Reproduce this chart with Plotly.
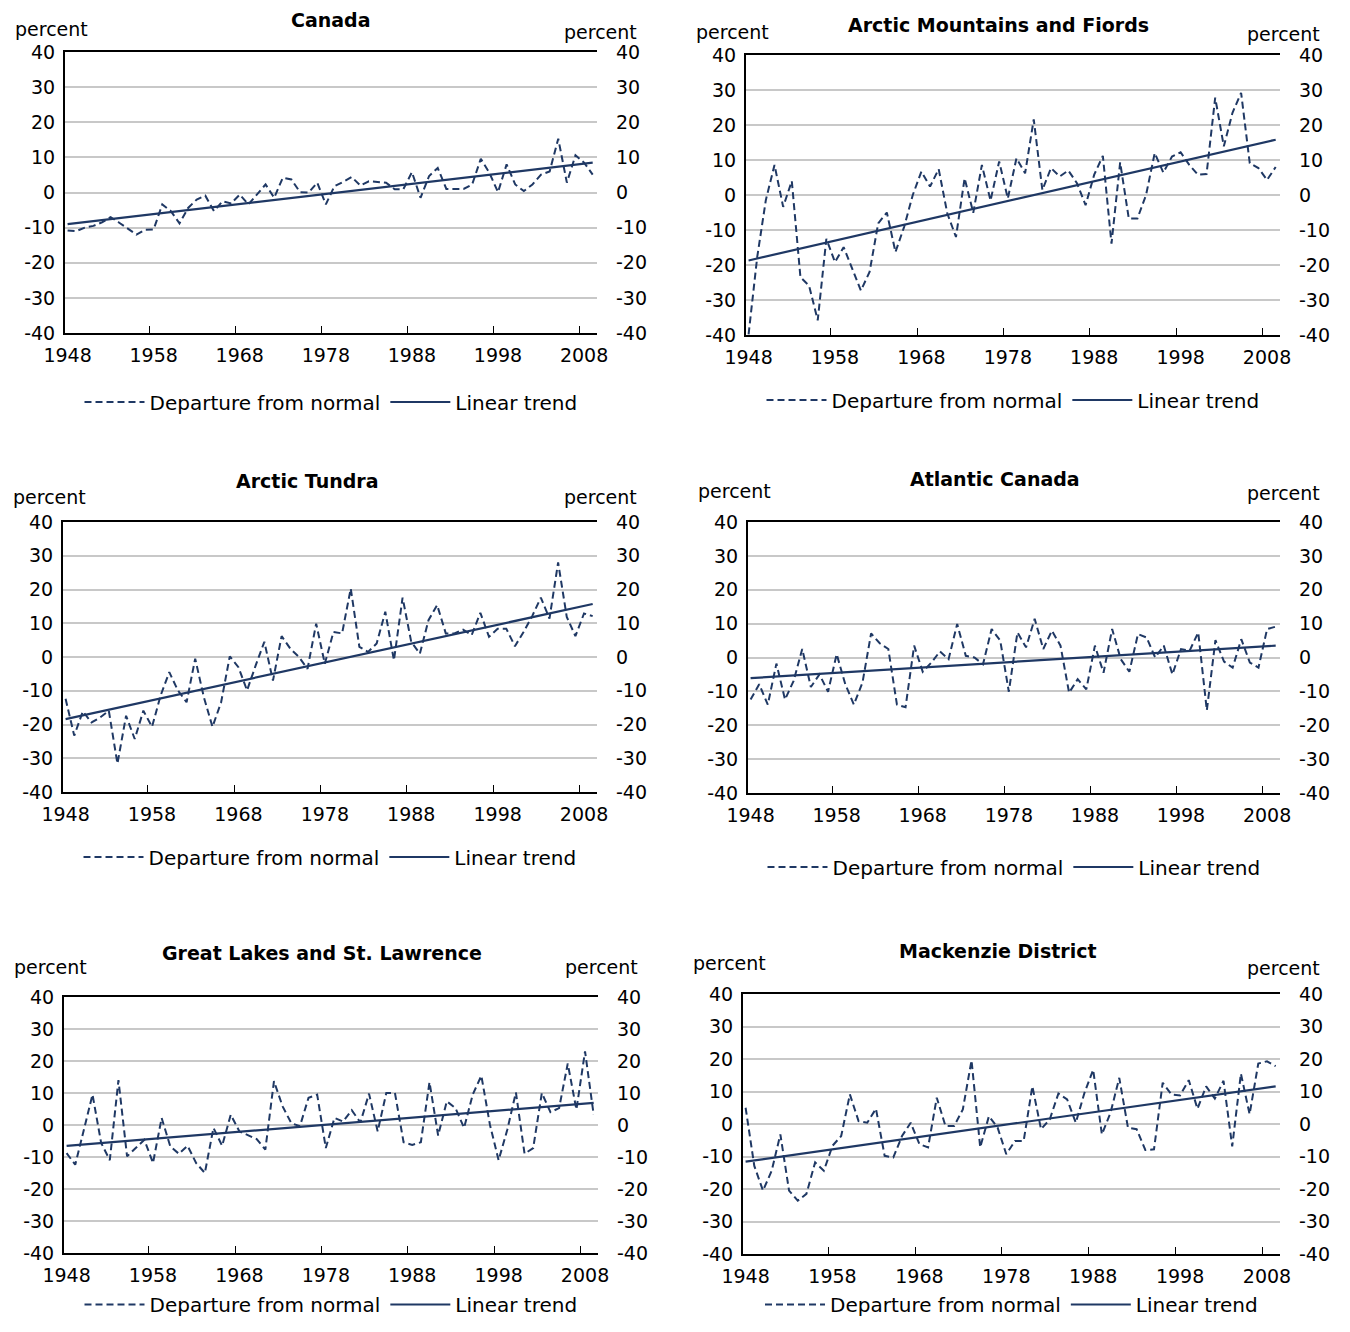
import plotly.graph_objects as go

years = list(range(1948, 2010))

canada = [-10.8, -11, -10, -9.5, -8.5, -7, -8.6, -10.3, -12, -10.6, -10.5, -3.4, -5.3, -8.8, -4.4, -2, -0.9,
          -5.3, -2.5, -3.1, -0.6, -3.4, -0.6, 2.3, -1.5, 4.2, 3.7, 0.1, 0, 2.8, -3.4, 1.8, 3, 4.4, 2, 3.2, 3,
          2.8, 0.9, 0.9, 5.8, -1.5, 4.7, 7, 1, 1, 1, 2.3, 9.6, 5.6, 0.1, 8, 2.3, 0.4, 2.3, 5.1, 6, 15.3, 2.8,
          10.6, 8.5, 5.1]
arctic_mtn = [-39.8, -17.7, -1.4, 8.6, -3.4, 4, -23.5, -25.9, -35.8, -12.5, -19.2, -14.9, -21.1, -27.3, -22,
              -8.1, -5, -16.3, -9.1, 0, 6.7, 2.4, 7.4, -5.3, -12, 4.8, -5.1, 8.6, -1.6, 9.6, -1, 10.5, 6.2,
              21.6, 1.4, 7.7, 5.3, 7, 3.4, -2.9, 5.8, 11.2, -13.9, 9.3, -6.7, -6.7, 0, 12, 6.4, 11, 12.2, 8.6,
              5.8, 6, 27.8, 13.9, 23.5, 29.2, 9.1, 7.7, 4.3, 8]
arctic_tundra = [-12.4, -23.3, -16.1, -19.4, -17.9, -15.9, -31.6, -17.4, -24.3, -15.9, -20.7, -11.4, -4.5,
                 -9.9, -13.4, -0.5, -11.9, -20.7, -13.4, 0.2, -3, -9.9, -2.5, 4.5, -7, 6.2, 2.5, 0, -3.5,
                 9.9, -2, 7.4, 7, 20.3, 3, 1.5, 4, 13.4, -1, 17.6, 4.5, 1, 10.9, 15.4, 7, 7, 8.1, 6.5, 13.1,
                 6, 8.4, 8.4, 3.2, 7.4, 12.1, 17.6, 11.4, 28, 11.9, 6.2, 12.9, 12.1]
atlantic = [-12.4, -7.9, -13.9, -1.8, -12.4, -6.9, 2.5, -8.7, -5, -10.1, 1, -7.9, -13.9, -7.4, 7.1, 4.2, 2.5,
            -13.9, -14.7, 3.5, -4.2, -1.5, 1.8, -0.5, 9.9, 0.5, 0, -2, 8.4, 5, -10.1, 7.4, 3, 11.4, 2.5, 7.9,
            3.5, -10.4, -6.4, -9.4, 3.5, -4.5, 8.4, -0.5, -4.2, 6.9, 5.9, 0, 3.5, -5, 2.5, 2, 7.4, -15.6,
            5.1, -1.2, -3, 5.4, -1.5, -3, 8.4, 9.1]
great_lakes = [-8.8, -12.4, -1.5, 9.5, -5.6, -11, 14, -9.8, -7.2, -4.6, -11.9, 2.2, -6.7, -9, -6.5, -11.9,
               -15, -0.9, -6.5, 3.2, -2, -3.3, -4.4, -7.7, 13.7, 5.8, 0.6, -0.4, 8.5, 9.5, -7.2, 2.2, 1.1,
               4.6, 0.8, 9.8, -2, 10, 10, -5.4, -6.2, -5.4, 13.4, -3.3, 7.4, 5.3, -0.9, 9.5, 15.4, 0, -11,
               -1.5, 10.2, -9, -7.2, 10, 4, 5.3, 19.2, 4.8, 23, 3.2]
mackenzie = [5, -12.9, -20.5, -14.4, -3.2, -20.5, -23.6, -21.5, -11.8, -14.4, -6.7, -3.7, 9.1, 0.9, 0.4, 4.7,
             -9.8, -10.3, -3.7, 0.4, -6.2, -7.2, 8.1, -0.6, -0.6, 4.5, 19.6, -7.2, 2.4, -1.1, -9.3, -5.2,
             -5.2, 11.6, -1.6, 1.4, 9.4, 7.6, 0.4, 9.6, 16.7, -3.2, 3.5, 14.2, -1.1, -1.6, -8, -7.8, 12.7,
             9.1, 8.8, 13.5, 4.7, 11.6, 7.8, 13.3, -6.9, 15.5, 3, 18.6, 19.3, 17.8]

trend_years = [1948, 2009]
trends = {
    "Canada": [-9, 8.5],
    "Arctic Mountains and Fiords": [-18.7, 15.8],
    "Arctic Tundra": [-18.4, 15.7],
    "Atlantic Canada": [-6.1, 3.5],
    "Great Lakes and St. Lawrence": [-6.5, 6.9],
    "Mackenzie District": [-11.6, 11.6],
}
series = {
    "Canada": canada,
    "Arctic Mountains and Fiords": arctic_mtn,
    "Arctic Tundra": arctic_tundra,
    "Atlantic Canada": atlantic,
    "Great Lakes and St. Lawrence": great_lakes,
    "Mackenzie District": mackenzie,
}
tick_years = [1948, 1958, 1968, 1978, 1988, 1998, 2008]
y_ticks = [-40, -30, -20, -10, 0, 10, 20, 30, 40]
y_labels = [str(v) for v in y_ticks]

# page body has an 8px margin: shrink the figure and shift the coordinates
OFF = 8
W, H = 1350 - 2 * OFF, 1332 - 2 * OFF


def px(v):
    return (v - OFF) / W


def py(v):
    return 1 - (v - OFF) / H


# plot boxes in pixels: left, right, top, bottom ; title pos ; left/right "percent" y ; legend y
boxes = [
    (65, 597, 52, 333, 331, 20, 29, 32, 402),
    (746, 1280, 55, 335, 998, 25, 32, 34, 400),
    (63, 597, 522, 792, 307, 481, 497, 497, 857),
    (748, 1280, 522, 793, 995, 479, 491, 493, 867),
    (64, 598, 997, 1253, 322, 953, 967, 967, None),
    (743, 1280, 994, 1254, 998, 951, 963, 968, None),
]
navy = "#1f3864"
font = "DejaVu Sans"

fig = go.Figure()
layout = {}
annotations = []
for i, (name, vals) in enumerate(series.items()):
    l, r, t, b, tx, ty, pl, pr, ly = boxes[i]
    n = i + 1
    xa, ya = f"x{n}" if n > 1 else "x", f"y{n}" if n > 1 else "y"
    ya2 = f"y{n + 6}"
    leg = f"legend{n}" if n > 1 else "legend"
    fig.add_trace(go.Scatter(x=years, y=vals, mode="lines", name="Departure from normal",
                             line=dict(color=navy, width=2, dash="7px,4px"), xaxis=xa, yaxis=ya, legend=leg))
    fig.add_trace(go.Scatter(x=trend_years, y=trends[name], mode="lines", name="Linear trend",
                             line=dict(color=navy, width=2.2), xaxis=xa, yaxis=ya, legend=leg))
    fig.add_trace(go.Scatter(x=[1948], y=[0], mode="lines", showlegend=False, hoverinfo="skip",
                             line=dict(width=0), xaxis=xa, yaxis=ya2))
    sx = "" if n == 1 else str(n)
    layout[f"xaxis{sx}"] = dict(domain=[px(l), px(r)], anchor=ya, range=[1947.7, 2009.5], tickvals=tick_years,
                               showgrid=False, zeroline=False, showline=True, linecolor="black", linewidth=2,
                               mirror=True, ticks="", tickfont=dict(size=19), automargin=False,
                               ticklabelstandoff=4,
                               minor=dict(tickvals=[1957.5, 1967.5, 1977.5, 1987.5, 1997.5, 2007.5],
                                          ticks="inside", ticklen=7, tickcolor="black", showgrid=False))
    layout[f"yaxis{sx}"] = dict(domain=[py(b), py(t)], anchor=xa, range=[-40, 40], tickvals=y_ticks,
                               ticktext=y_labels, showgrid=True, gridcolor="#c8c8c8", gridwidth=1.5,
                               zeroline=False, showline=True, linecolor="black", linewidth=2, ticks="",
                               tickfont=dict(size=19), automargin=False, ticklabelstandoff=4)
    layout[f"yaxis{n + 6}"] = dict(overlaying=ya, side="right", anchor=xa, range=[-40, 40], tickvals=y_ticks,
                                   ticktext=y_labels, showgrid=False, zeroline=False, showline=False, ticks="",
                                   tickfont=dict(size=19), automargin=False, ticklabelstandoff=18)
    if ly is None:
        ly_pos, ly_anchor = 0, "bottom"
    else:
        ly_pos, ly_anchor = py(ly), "middle"
    layout[leg] = dict(orientation="h", x=px((l + r) / 2), xanchor="center", y=ly_pos, yanchor=ly_anchor,
                       font=dict(size=20), bgcolor="rgba(0,0,0,0)", itemwidth=60)
    annotations.append(dict(text=f"<b>{name}</b>", x=px(tx), y=py(ty), xref="paper", yref="paper",
                            xanchor="center", yanchor="middle", showarrow=False, font=dict(size=19)))
    annotations.append(dict(text="percent", x=px(l - 52), y=py(pl), xref="paper", yref="paper",
                            xanchor="left", yanchor="middle", showarrow=False, font=dict(size=19)))
    annotations.append(dict(text="percent", x=px(r + 42), y=py(pr), xref="paper", yref="paper",
                            xanchor="right", yanchor="middle", showarrow=False, font=dict(size=19)))

fig.update_layout(**layout)
fig.update_layout(width=W, height=H, margin=dict(l=0, r=0, t=0, b=0), plot_bgcolor="white",
                  paper_bgcolor="white", font=dict(family=font, color="black"), annotations=annotations)
fig.write_html("out.html")
